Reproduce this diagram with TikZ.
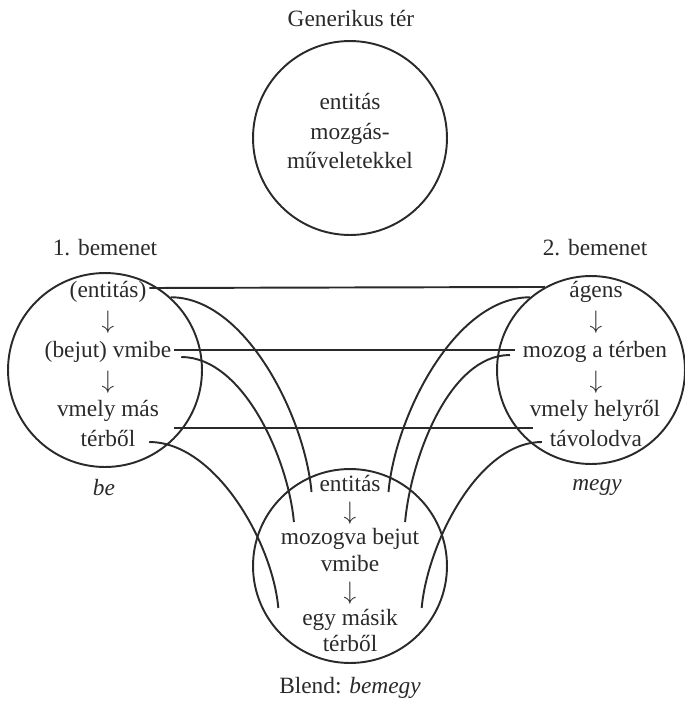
\documentclass[tikz,border=0pt]{standalone}
\usepackage{fontspec}
\setmainfont{Liberation Serif}
\usetikzlibrary{positioning}
\definecolor{ink}{HTML}{2A2A2A}
\tikzset{space/.style={draw=ink,circle,line width=1.1pt,minimum size=3.88cm,inner sep=0pt},
         row/.style={text=ink,text height=8pt,text depth=2.5pt,inner sep=1.5pt},
         flow/.style={text=ink,text height=7pt,text depth=1pt,inner sep=0pt},
         title/.style={text=ink,inner sep=1pt},
         link/.style={draw=ink,line width=1.1pt},
         lcurve/.style={link,out=0,in=95,looseness=.8},
         rcurve/.style={link,out=180,in=85,looseness=.8},
        }

\begin{document}
\begin{tikzpicture}[x=.02cm,y=-.02cm,font=\fontsize{13.3}{17}\selectfont]
        \useasboundingbox(0,0)rectangle(685,704);

        \node[title](gtitle)at(351,18){Generikus tér};
        \node[space](gen)at(350,138){};
        \node[title,align=center](gtext)at(350,131){entitás\\mozgás-\\műveletekkel};

        \node[title](t1)at(105,248){1. bemenet};
        \node[space](in1)at(105,370){};
        \node[row](l1)at(108,293){(entitás)};
        \node[flow](la1)at(108,323){$\downarrow$};
        \node[row](l2)at(108,353){(bejut) vmibe};
        \node[flow](la2)at(108,383){$\downarrow$};
        \node[row](l3)at(108,412){vmely más};
        \node[row](l4)at(108,442){térből};
        \node[title](n1)at(104,487){\itshape be};

        \node[title](t2)at(595,248){2. bemenet};
        \node[space,minimum size=3.76cm](in2)at(591,370){};
        \node[row](r1)at(596,293){ágens};
        \node[flow](ra1)at(596,323){$\downarrow$};
        \node[row](r2)at(595,353){mozog a térben};
        \node[flow](ra2)at(596,383){$\downarrow$};
        \node[row](r3)at(595,412){vmely helyről};
        \node[row](r4)at(596,442){távolodva};
        \node[title](n2)at(597,488){\itshape megy};

        \node[space](blend)at(350,566){};
        \node[row](b1)at(350,487){entitás};
        \node[flow](ba1)at(350,514){$\downarrow$};
        \node[row](b2)at(350,540){mozogva bejut};
        \node[row](b3)at(350,567){vmibe};
        \node[flow](ba2)at(350,594){$\downarrow$};
        \node[row](b4)at(350,621){egy másik};
        \node[row](b5)at(350,647){térből};
        \node[title](t3)at(350,688){Blend: \itshape bemegy};

        \draw[link]([yshift=.1cm]l1.east)--(in2.119);
        \draw[link]([yshift=.06cm]l2.east)--([xshift=-.1cm,yshift=.06cm]r2.west);
        \draw[link]([xshift=.24cm,yshift=-.32cm]l3.east)--([xshift=.12cm,yshift=-.32cm]r3.west);

        \draw[lcurve](in1.48)to([xshift=-.1cm,yshift=-.1cm]b1.west);
        \draw[lcurve]([xshift=.14cm,yshift=-.08cm]l2.east)to([xshift=.32cm,yshift=.36cm]b2.west);
        \draw[lcurve]([xshift=.22cm]l4.east)to([xshift=-.42cm,yshift=.26cm]b4.west);

        \draw[rcurve](in2.130)to([xshift=.1cm,yshift=-.1cm]b1.east);
        \draw[rcurve]([xshift=-.2cm,yshift=-.04cm]r2.west)to([xshift=-.34cm,yshift=.36cm]b2.east);
        \draw[rcurve]([xshift=-.1cm]r4.west)to([xshift=.42cm,yshift=.26cm]b4.east);
    \end{tikzpicture}
\end{document}
